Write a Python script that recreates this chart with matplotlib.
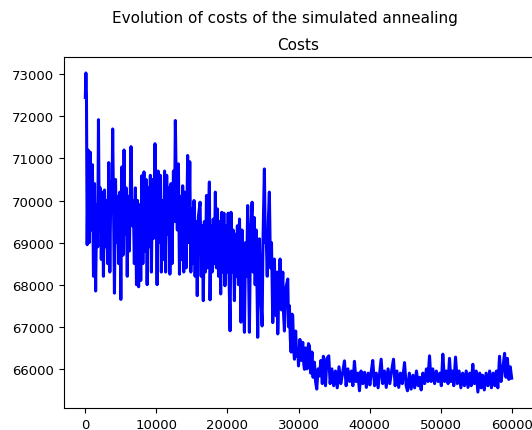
import matplotlib
matplotlib.use("Agg")
from matplotlib import pyplot as plt

# iteration numbers and costs
steps = [0, 80, 160, 260, 400, 550, 700, 850, 1000, 1150, 1300, 1450, 1600, 1750, 1850, 1950,
         2100, 2250, 2400, 2550, 2700, 2850, 3000, 3150, 3300, 3450, 3600, 3750, 3850, 3950,
         4100, 4250, 4400, 4550, 4700, 4850, 5000, 5150, 5300, 5450, 5600, 5750, 5900, 6050,
         6200, 6430, 6600, 6750, 6900, 7050, 7200, 7350, 7500, 7650, 7800, 7950, 8100, 8250,
         8400, 8550, 8700, 8850, 9000, 9150, 9300, 9450, 9600, 9800, 9950, 10100, 10250, 10400,
         10550, 10700, 10850, 11000, 11150, 11300, 11450, 11600, 11750, 11900, 12050, 12200,
         12400, 12550, 12670, 12800, 12950, 13100, 13250, 13400, 13550, 13700, 13850, 14000,
         14200, 14400, 14550, 14700, 14850, 15000, 15150, 15300, 15450, 15600, 15750, 15900,
         16150, 16300, 16450, 16600, 16750, 16900, 17050, 17200, 17350, 17460, 17550, 17700,
         17850, 18000, 18150, 18300, 18450, 18600, 18750, 18900, 19050, 19200, 19350, 19500,
         19650, 19800, 19950, 20100, 20250, 20370, 20500, 20650, 20800, 20980, 21100, 21250,
         21400, 21550, 21700, 21900, 22050, 22200, 22390, 22550, 22700, 22850, 23000, 23090,
         23250, 23470, 23600, 23750, 23900, 24050, 24260, 24400, 24500, 24650, 24880, 25000,
         25200, 25320, 25440, 25600, 25750, 25900, 26050, 26200, 26380, 26500, 26610, 26750,
         26850, 27000, 27080, 27250, 27410, 27600, 27790, 27900, 28020, 28200, 28490, 28600,
         28720, 28850, 28960, 29100, 29190, 29300, 29430, 29600, 29750, 29900, 30000, 30200,
         30400, 30600, 30750, 30840, 31000, 31200, 31400, 31540, 31700, 31900, 32050, 32240,
         32400, 32570, 32750, 32950, 33150, 33350, 33500, 33650, 33800, 34000, 34260, 34450,
         34700, 34950, 35200, 35450, 35700, 35950, 36200, 36470, 36700, 36950, 37200, 37450,
         37650, 37870, 38100, 38350, 38580, 38800, 39050, 39300, 39550, 39800, 40050, 40250,
         40450, 40700, 40950, 41200, 41450, 41630, 41850, 42100, 42350, 42600, 42850, 43100,
         43370, 43600, 43850, 44100, 44350, 44600, 44920, 45150, 45340, 45600, 45850, 46100,
         46350, 46600, 46850, 47050, 47260, 47500, 47750, 48000, 48200, 48440, 48650, 48900,
         49150, 49400, 49650, 49900, 50100, 50310, 50550, 50800, 51050, 51250, 51450, 51650,
         51850, 52100, 52350, 52600, 52850, 53100, 53350, 53600, 53850, 54100, 54300, 54530,
         54750, 55000, 55240, 55500, 55700, 55900, 56150, 56400, 56650, 56900, 57150, 57400,
         57650, 57850, 58050, 58290, 58500, 58750, 59000, 59200, 59400, 59600, 59800, 60000]

costs = [72450, 73030, 72500, 68950, 71200, 69000, 71150, 69300, 70850, 68200, 70400, 67850,
         69900, 68900, 71920, 69500, 70300, 68600, 70200, 68200, 70250, 68900, 70000, 68500,
         70900, 68300, 70450, 69800, 71700, 70200, 67800, 70500, 69000, 70100, 68500, 70200,
         67650, 70800, 68700, 71200, 69200, 70300, 68200, 70100, 68800, 71280, 69400, 70000,
         68500, 70300, 68000, 70000, 67950, 69900, 68100, 70590, 68500, 70680, 68800, 70500,
         68000, 70300, 68900, 70600, 68300, 70500, 69100, 71350, 70200, 68000, 70700, 69000,
         70600, 68300, 70000, 68600, 70700, 68300, 70600, 69200, 70300, 68250, 70400, 68500,
         70700, 69500, 71900, 70300, 69300, 70870, 68250, 70100, 68600, 70350, 68300, 70200,
         68400, 71070, 69000, 70920, 68300, 69800, 68500, 70000, 68200, 69500, 67740, 69600,
         69960, 68200, 69400, 67620, 69500, 68300, 70120, 68400, 69700, 70440, 67640, 69400,
         68300, 69560, 68500, 70200, 68400, 69800, 68200, 69500, 67780, 69720, 68300, 69700,
         67975, 69400, 68300, 69700, 68000, 66905, 69720, 68300, 69300, 67620, 69200, 68200,
         69400, 68000, 69560, 67110, 69300, 68000, 66870, 69000, 68200, 69880, 68100, 66870,
         69200, 69960, 68300, 69600, 68000, 69300, 66750, 68800, 69090, 67900, 67020, 69000,
         70750, 69000, 69250, 68200, 69500, 70200, 68400, 69000, 67100, 68300, 68610, 67500,
         67260, 68300, 66830, 68100, 68610, 67400, 68300, 67300, 66900, 67900, 68135, 67000,
         67500, 66700, 66400, 67300, 67260, 66500, 66230, 66900, 66300, 66470, 66070, 66700,
         66200, 66630, 66100, 65990, 66500, 66000, 66600, 66550, 65900, 66400, 65800, 66160,
         65700, 65520, 66000, 65830, 66200, 65650, 66300, 66070, 65600, 66250, 66310, 65650,
         66000, 65600, 65950, 65550, 66050, 65650, 65900, 66190, 65600, 66000, 65700, 65950,
         65600, 66180, 65700, 65900, 65480, 65950, 65650, 65920, 65560, 65900, 65620, 65950,
         66200, 65600, 65900, 65550, 65950, 66230, 65650, 65950, 65560, 66000, 65650, 65950,
         66230, 65600, 65950, 65560, 65900, 65650, 66150, 65600, 65480, 65900, 65520, 65850,
         65550, 65950, 65600, 65800, 65500, 65900, 65650, 66000, 65700, 66310, 65700, 66000,
         65650, 65950, 65700, 65900, 65600, 66350, 65700, 65950, 65650, 66250, 65700, 65950,
         65600, 66280, 65650, 65950, 65550, 65900, 65600, 65950, 65560, 65900, 65600, 66110,
         65650, 65950, 65450, 65900, 65550, 65850, 65500, 65900, 65600, 65950, 65550, 65900,
         65600, 65950, 65550, 66300, 65700, 66000, 66370, 65800, 66250, 65750, 66050, 65780]

fig = plt.figure(figsize=(5.32, 4.31), dpi=100)
ax = fig.add_axes([64/532, 22/431, 469/532, 351/431])
ax.plot(steps, costs, color='blue', linewidth=2.2)
ax.set_title('Costs', fontsize=11)
ax.tick_params(labelsize=9.5)
fig.suptitle('Evolution of costs of the simulated annealing', fontsize=11, x=0.536, y=0.975)
fig.savefig('out.png')
